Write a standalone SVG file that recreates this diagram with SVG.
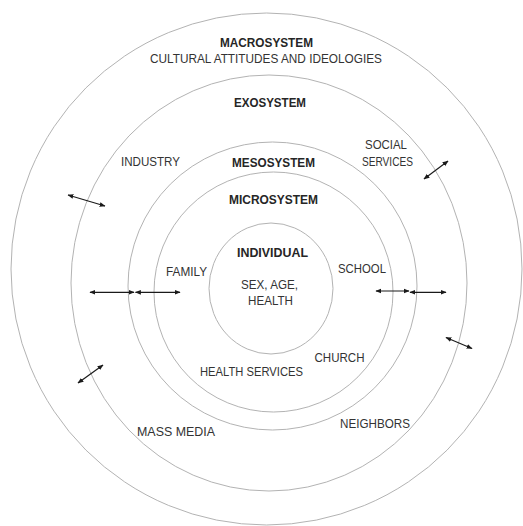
<svg xmlns="http://www.w3.org/2000/svg" width="523" height="526" viewBox="0 0 523 526">
  <style>
    .ring { fill: none; stroke: #b3b3b3; stroke-width: 1; }
    .t { font-family: "Liberation Sans", Arial, sans-serif; font-size: 12.6px; fill: #333333; text-anchor: middle; }
    .b { font-weight: bold; font-size: 12.6px; fill: #262626; }
    .arr { stroke: #1a1a1a; stroke-width: 1.2; fill: none; marker-start: url(#ah); marker-end: url(#ah); }
  </style>
  <defs>
    <marker id="ah" viewBox="0 0 10 10" refX="9" refY="5" markerWidth="6" markerHeight="6" markerUnits="userSpaceOnUse" orient="auto-start-reverse">
      <path d="M0,1 L10,5 L0,9 Z" fill="#1a1a1a"/>
    </marker>
  </defs>
  <rect width="523" height="526" fill="#ffffff"/>

  <g id="macrosystem">
    <ellipse class="ring" cx="266.5" cy="269" rx="255.5" ry="256"/>
    <text class="t b" x="266.5" y="47" textLength="93" lengthAdjust="spacingAndGlyphs">MACROSYSTEM</text>
    <text class="t" x="266" y="63" textLength="232" lengthAdjust="spacingAndGlyphs">CULTURAL ATTITUDES AND IDEOLOGIES</text>
  </g>

  <g id="exosystem">
    <ellipse class="ring" cx="269" cy="283" rx="198" ry="208"/>
    <text class="t b" x="270" y="107" textLength="72" lengthAdjust="spacingAndGlyphs">EXOSYSTEM</text>
  </g>

  <g id="industry">
    <text class="t" x="150.5" y="166" textLength="59" lengthAdjust="spacingAndGlyphs">INDUSTRY</text>
  </g>

  <g id="social-services">
    <text class="t" x="386" y="149" textLength="42" lengthAdjust="spacingAndGlyphs">SOCIAL</text>
    <text class="t" x="387.5" y="166" textLength="51" lengthAdjust="spacingAndGlyphs">SERVICES</text>
  </g>

  <g id="mass-media">
    <text class="t" x="176" y="436" textLength="78" lengthAdjust="spacingAndGlyphs">MASS MEDIA</text>
  </g>

  <g id="neighbors">
    <text class="t" x="375" y="428" textLength="70" lengthAdjust="spacingAndGlyphs">NEIGHBORS</text>
  </g>

  <g id="mesosystem">
    <ellipse class="ring" cx="272.5" cy="286" rx="144.5" ry="144"/>
    <text class="t b" x="273.5" y="167" textLength="83" lengthAdjust="spacingAndGlyphs">MESOSYSTEM</text>
  </g>

  <g id="microsystem">
    <ellipse class="ring" cx="273.5" cy="292" rx="119.5" ry="120"/>
    <text class="t b" x="273.5" y="204" textLength="89" lengthAdjust="spacingAndGlyphs">MICROSYSTEM</text>
  </g>

  <g id="family">
    <text class="t" x="186.5" y="275.5" textLength="41" lengthAdjust="spacingAndGlyphs">FAMILY</text>
  </g>

  <g id="school">
    <text class="t" x="362" y="273" textLength="48" lengthAdjust="spacingAndGlyphs">SCHOOL</text>
  </g>

  <g id="church">
    <text class="t" x="339.5" y="362" textLength="50" lengthAdjust="spacingAndGlyphs">CHURCH</text>
  </g>

  <g id="health-services">
    <text class="t" x="251.5" y="376" textLength="103" lengthAdjust="spacingAndGlyphs">HEALTH SERVICES</text>
  </g>

  <g id="individual">
    <ellipse class="ring" cx="271" cy="288.5" rx="62" ry="65.5"/>
    <text class="t b" x="272.5" y="257" textLength="71" lengthAdjust="spacingAndGlyphs">INDIVIDUAL</text>
    <text class="t" x="269.5" y="289" textLength="57" lengthAdjust="spacingAndGlyphs">SEX, AGE,</text>
    <text class="t" x="270.5" y="305" textLength="45" lengthAdjust="spacingAndGlyphs">HEALTH</text>
  </g>

  <g id="connectors">
    <line class="arr" x1="68" y1="195" x2="105" y2="206"/>
    <line class="arr" x1="424" y1="179" x2="448" y2="161"/>
    <line class="arr" x1="90" y1="292.3" x2="134" y2="292.3"/>
    <line class="arr" x1="135.5" y1="292.3" x2="180" y2="292.3"/>
    <line class="arr" x1="376" y1="291" x2="409" y2="291"/>
    <line class="arr" x1="410" y1="292.3" x2="446" y2="292.3"/>
    <line class="arr" x1="78" y1="383" x2="103" y2="365"/>
    <line class="arr" x1="446" y1="337.5" x2="472" y2="348.5"/>
  </g>
</svg>
